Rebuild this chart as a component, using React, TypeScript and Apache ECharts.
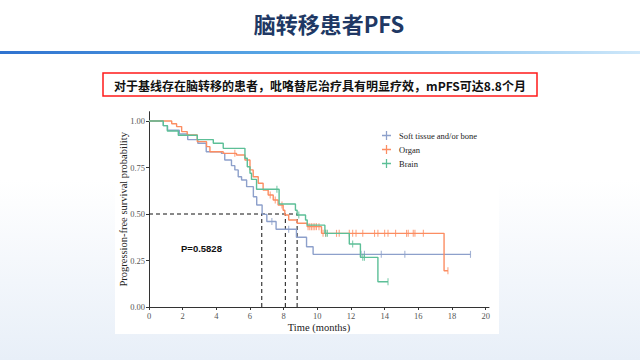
import React, { useEffect, useRef } from "react";
import * as echarts from "echarts";

const seriesNames = ["Soft tissue and/or bone", "Organ", "Brain"];
const seriesColors = ["#8da0cb", "#fc8d62", "#5cbf97"];

const softTimes = [0, 0.85, 1.1, 1.8, 2.3, 2.9, 3.4, 4.3, 4.5, 4.9, 5.1, 5.3, 5.5, 5.8, 6.2, 6.4, 6.72, 7.0, 7.55, 8.76, 9.36, 9.75, 19.1];
const softSurv = [1, 0.975, 0.95, 0.93, 0.9, 0.88, 0.835, 0.826, 0.79, 0.76, 0.737, 0.7, 0.683, 0.647, 0.593, 0.548, 0.498, 0.46, 0.418, 0.375, 0.324, 0.283, 0.283];
const softCensor = [7.3, 8.3, 12.6, 12.8, 13.8, 15.2, 19.1];

const organTimes = [0, 1.35, 1.64, 1.94, 2.27, 2.87, 3.42, 3.62, 4.41, 5.2, 5.7, 6.0, 6.19, 6.49, 6.78, 7.08, 7.38, 7.67, 7.97, 8.07, 8.3, 8.8, 9.4, 10.25, 17.53, 17.76];
const organSurv = [1, 0.985, 0.97, 0.943, 0.925, 0.889, 0.862, 0.835, 0.826, 0.817, 0.79, 0.737, 0.7, 0.665, 0.629, 0.602, 0.575, 0.548, 0.52, 0.495, 0.468, 0.45, 0.432, 0.396, 0.195, 0.195];
const organCensor = [5.1, 7.2, 7.5, 7.9, 9.45, 9.55, 9.65, 9.75, 9.85, 9.95, 10.1, 10.34, 10.5, 11.14, 11.3, 11.9, 12.1, 12.3, 12.7, 13.4, 13.6, 14.0, 14.2, 14.65, 15.3, 15.4, 15.7, 15.8, 16.3, 17.76];

const brainTimes = [0, 0.85, 1.09, 1.74, 2.87, 3.82, 4.41, 5.7, 5.84, 6.0, 6.09, 6.39, 7.73, 8.7, 8.8, 9.3, 9.4, 10.45, 11.9, 12.56, 13.6, 14.2];
const brainSurv = [1, 0.975, 0.946, 0.923, 0.9, 0.88, 0.853, 0.8, 0.754, 0.719, 0.686, 0.633, 0.554, 0.52, 0.495, 0.468, 0.44, 0.396, 0.339, 0.267, 0.136, 0.136];
const brainCensor = [7.6, 8.9, 10.5, 10.6, 12.1, 12.7, 12.8, 14.2];

const medians = [6.7, 8.1, 8.8];
const yTickLabels = ["0.00", "0.25", "0.50", "0.75", "1.00"];
const pValueText = "P=0.5828";

const titleText = "脑转移患者PFS";
const subtitleText = "对于基线存在脑转移的患者，吡咯替尼治疗具有明显疗效，mPFS可达8.8个月";

function stepAt(times: number[], surv: number[], t: number) {
  let v = surv[0];
  for (let i = 0; i < times.length; i++) {
    if (times[i] <= t) v = surv[i];
  }
  return v;
}

const serif = "'Liberation Serif', 'DejaVu Serif', serif";
const plusIcon = "path://M0,4.3H10V5.7H0Z M4.3,0H5.7V10H4.3Z";

export default function App() {
  const ref = useRef<HTMLDivElement>(null);
  useEffect(() => {
    if (!ref.current) return;
    const chart = echarts.init(ref.current, null, { renderer: "svg" });
    const groups = [
      { t: softTimes, s: softSurv, c: softCensor },
      { t: organTimes, s: organSurv, c: organCensor },
      { t: brainTimes, s: brainSurv, c: brainCensor },
    ];
    const lineSeries: any[] = groups.map((g, i) => ({
      name: seriesNames[i],
      type: "line",
      step: "end",
      symbol: "none",
      color: seriesColors[i],
      lineStyle: { width: 1.4, color: seriesColors[i] },
      data: g.t.map((t, k) => [t, g.s[k]]),
      z: 3 + i,
    }));
    const censorSeries: any[] = groups.map((g, i) => ({
      name: seriesNames[i] + " censor",
      type: "scatter",
      symbol: "rect",
      symbolSize: [1.1, 7],
      itemStyle: { color: seriesColors[i], opacity: 0.8 },
      data: g.c.map((t) => [t, stepAt(g.t, g.s, t)]),
      z: 3 + i,
    }));
    const maxMed = Math.max(...medians);
    const dashStyle = { color: "#111", width: 1, type: [4, 3] as any };
    const medianSeries: any[] = [
      {
        name: "median-h",
        type: "line",
        symbol: "none",
        lineStyle: dashStyle,
        data: [[0, 0.5], [maxMed, 0.5]],
        z: 2,
      },
      ...medians.map((m, i) => ({
        name: "median-v" + i,
        type: "line",
        symbol: "none",
        lineStyle: dashStyle,
        data: [[m, 0], [m, 0.5]],
        z: 2,
      })),
    ];

    chart.setOption({
      animation: false,
      backgroundColor: "transparent",
      grid: { left: 149, right: 151, top: 111.7, bottom: 53, containLabel: false },
      xAxis: {
        type: "value",
        min: 0,
        max: 20.2,
        interval: 2,
        name: "Time (months)",
        nameLocation: "middle",
        nameGap: 15,
        nameMoveOverlap: false,
        nameTextStyle: { fontFamily: serif, fontSize: 10.5, color: "#222" },
        axisLine: { lineStyle: { color: "#333", width: 1 } },
        axisTick: { length: 3, lineStyle: { color: "#333" } },
        axisLabel: {
          fontFamily: serif,
          fontSize: 8.5,
          color: "#555",
          margin: 4,
          showMaxLabel: false,
        },
        splitLine: { show: false },
      },
      yAxis: {
        type: "value",
        min: 0,
        max: 1.05,
        interval: 0.25,
        name: "Progression-free survival probability",
        nameLocation: "middle",
        nameGap: 20,
        nameMoveOverlap: false,
        nameRotate: 90,
        nameTextStyle: { fontFamily: serif, fontSize: 10.5, color: "#222" },
        axisLine: { show: true, lineStyle: { color: "#333", width: 1 } },
        axisTick: { show: true, length: 3, lineStyle: { color: "#333" } },
        axisLabel: {
          fontFamily: serif,
          fontSize: 8.5,
          color: "#555",
          margin: 4,
          showMaxLabel: false,
          formatter: (v: number) => {
            const idx = Math.round(v / 0.25);
            return Math.abs(v - idx * 0.25) < 1e-6 && idx < yTickLabels.length ? yTickLabels[idx] : "";
          },
        },
        splitLine: { show: false },
      },
      legend: {
        data: seriesNames.map((n) => ({ name: n, icon: plusIcon })),
        orient: "vertical",
        left: 377,
        top: 126,
        itemWidth: 11,
        itemHeight: 9,
        itemGap: 5,
        textStyle: { fontFamily: serif, fontSize: 8.5, color: "#222", padding: [0, 0, 0, 2] },
      },
      graphic: [
        {
          type: "rect",
          z: -10,
          shape: { x: 0, y: 51, width: 640, height: 3 },
          style: {
            fill: new echarts.graphic.LinearGradient(0, 0, 1, 0, [
              { offset: 0, color: "#2f72cf" },
              { offset: 0.45, color: "#5aa9e6" },
              { offset: 1, color: "#cfe8fa" },
            ]),
          },
        },
        {
          type: "rect",
          z: -10,
          shape: { x: 115, y: 106, width: 384, height: 228 },
          style: { fill: "#ffffff" },
        },
        {
          type: "text",
          x: 329,
          y: 23,
          style: {
            text: titleText,
            fontFamily: "'Noto Sans CJK SC', sans-serif",
            fontWeight: "bold",
            fontSize: 22,
            fill: "#203864",
            align: "center",
            verticalAlign: "middle",
          },
        },
        {
          type: "rect",
          shape: { x: 103, y: 73, width: 434, height: 23 },
          style: { fill: "#ffffff", stroke: "#ff1a1a", lineWidth: 1.5 },
        },
        {
          type: "text",
          x: 320,
          y: 85,
          style: {
            text: subtitleText,
            fontFamily: "'Noto Sans CJK SC', sans-serif",
            fontWeight: "bold",
            fontSize: 12,
            fill: "#111",
            align: "center",
            verticalAlign: "middle",
          },
        },
        {
          type: "text",
          x: 181,
          y: 248,
          style: {
            text: pValueText,
            fontFamily: "'Liberation Sans', Arial, sans-serif",
            fontWeight: "bold",
            fontSize: 9.5,
            fill: "#111",
            align: "left",
            verticalAlign: "middle",
          },
        },
      ],
      series: [...medianSeries, ...lineSeries, ...censorSeries],
    });
    return () => chart.dispose();
  }, []);

  return (
    <div
      style={{
        position: "fixed",
        left: 0,
        top: 0,
        width: 640,
        height: 360,
        background: "linear-gradient(180deg, #ffffff 0%, #ffffff 50%, #e8eff8 100%)",
      }}
    >
      <div ref={ref} style={{ width: 640, height: 360 }} />
    </div>
  );
}
